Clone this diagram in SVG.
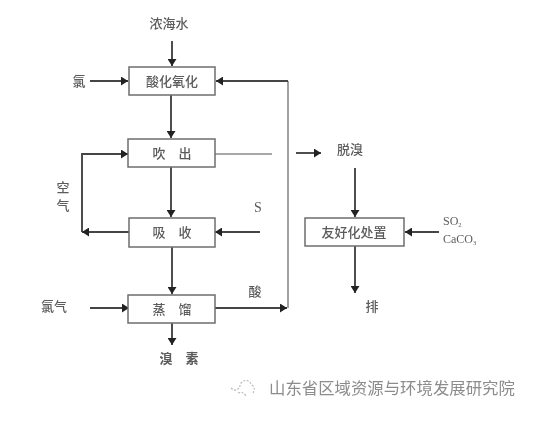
<svg xmlns="http://www.w3.org/2000/svg" width="535" height="423" viewBox="0 0 535 423">
<style>
.box{fill:#fff;stroke:#6e6e6e;stroke-width:1.5}
.ln{fill:none;stroke:#444;stroke-width:1.9}
.lg{fill:none;stroke:#8a8a8a;stroke-width:1.6}
.t{font-family:"Noto Sans CJK SC","Liberation Serif",serif;font-size:13px;fill:#5c5c5c;text-anchor:middle;font-weight:500}
.l{font-family:"Liberation Serif","Noto Sans CJK SC",serif;font-size:12px;fill:#5c5c5c}
.w{font-family:"Noto Sans CJK SC",sans-serif;font-size:16.4px;fill:#8c8c8c}
</style>
<defs>
<filter id="b" x="-5%" y="-5%" width="110%" height="110%"><feGaussianBlur stdDeviation="0.45"/></filter>
<marker id="a" markerUnits="userSpaceOnUse" markerWidth="8" markerHeight="9" refX="7" refY="4.5" orient="auto"><path d="M0 0L7 4.5L0 9Z" fill="#222"/></marker>
</defs>
<rect width="535" height="423" fill="#fff"/>
<g filter="url(#b)">
<g id="connectors">
<path class="ln" d="M172 41V66" marker-end="url(#a)"/>
<path class="ln" d="M90 81H128" marker-end="url(#a)"/>
<path class="ln" d="M171 95V138" marker-end="url(#a)"/>
<path class="lg" d="M288 81V308"/>
<path class="ln" d="M288 81H216" marker-end="url(#a)"/>
<path class="ln" d="M171 167V217" marker-end="url(#a)"/>
<path class="lg" d="M215 154H272"/>
<path class="ln" d="M296 153H321" marker-end="url(#a)"/>
<path class="ln" d="M82 232V154H128" marker-end="url(#a)"/>
<path class="ln" d="M129 232H82" marker-end="url(#a)"/>
<path class="ln" d="M260 232H215" marker-end="url(#a)"/>
<path class="ln" d="M172 247V294" marker-end="url(#a)"/>
<path class="ln" d="M90 308H129" marker-end="url(#a)"/>
<path class="ln" d="M215 308H287" marker-end="url(#a)"/>
<path class="ln" d="M172 323V345" marker-end="url(#a)"/>
<path class="ln" d="M355 168V217" marker-end="url(#a)"/>
<path class="ln" d="M439 232H405" marker-end="url(#a)"/>
<path class="ln" d="M355 246V293" marker-end="url(#a)"/>
</g>
<g id="n1"><rect class="box" x="129" y="67" width="86" height="28"/><text class="t" x="172" y="86">酸化氧化</text></g>
<g id="n2"><rect class="box" x="128" y="139" width="87" height="28"/><text class="t" x="172" y="158">吹　出</text></g>
<g id="n3"><rect class="box" x="129" y="218" width="86" height="29"/><text class="t" x="172" y="237">吸　收</text></g>
<g id="n4"><rect class="box" x="128" y="295" width="87" height="28"/><text class="t" x="172" y="314">蒸　馏</text></g>
<g id="n5"><rect class="box" x="305" y="218" width="99" height="28"/><text class="t" x="354" y="237">友好化处置</text></g>
<g id="labels">
<text class="t" x="169" y="28">浓海水</text>
<text class="t" x="79" y="86">氯</text>
<text class="t" x="63" y="192">空</text>
<text class="t" x="63" y="210">气</text>
<text class="l" x="254" y="212" style="font-size:14px">S</text>
<text class="t" x="255" y="296">酸</text>
<text class="t" x="54" y="311">氯气</text>
<text class="t" x="179" y="363" style="font-weight:700">溴　素</text>
<text class="t" x="350" y="154">脱溴</text>
<text class="t" x="372" y="311">排</text>
<text class="l" x="443" y="225">SO<tspan font-size="6.5" dy="2">2</tspan></text>
<text class="l" x="443" y="243">CaCO<tspan font-size="6.5" dy="2">3</tspan></text>
</g>
</g>
<g id="watermark" filter="url(#b)">
<path d="M231 388Q238 394 241 383Q247 377 252 385Q256 388 253 393M238 393Q243 391 246 396" fill="none" stroke="#b5b5b5" stroke-width="1.1" stroke-dasharray="2 1.5"/>
<text class="w" x="269" y="394">山东省区域资源与环境发展研究院</text>
</g>
</svg>
